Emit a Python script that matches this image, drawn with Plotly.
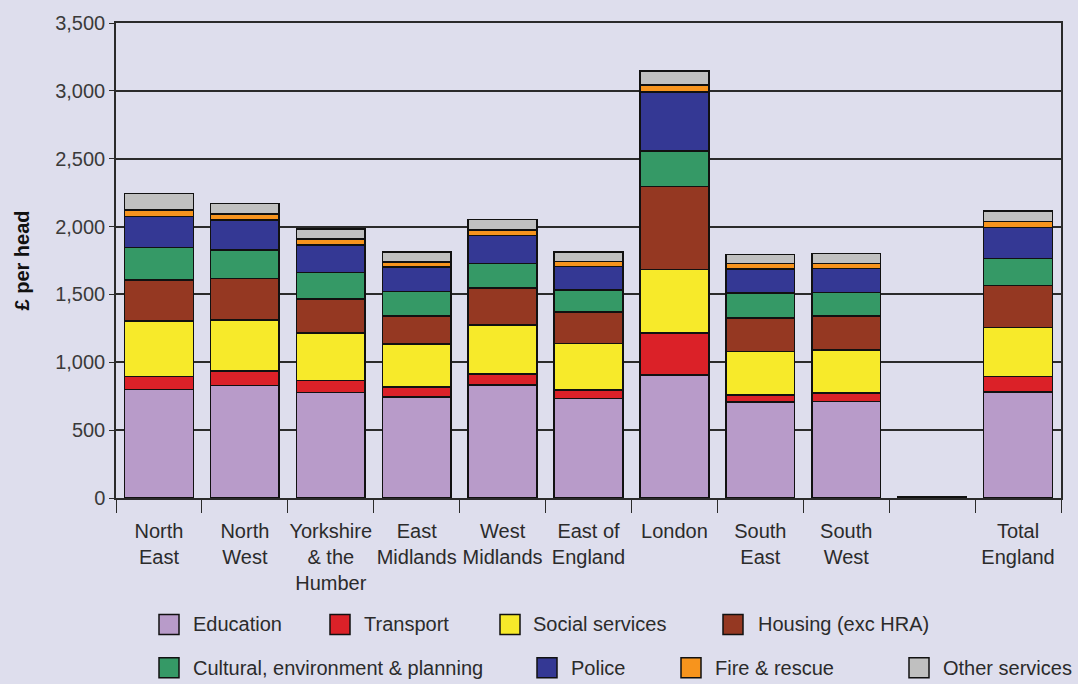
import plotly.graph_objects as go

# Regions (blank slot before the England total)
REGIONS = [
    "North<br>East", "North<br>West", "Yorkshire<br>& the<br>Humber", "East<br>Midlands",
    "West<br>Midlands", "East of<br>England", "London", "South<br>East", "South<br>West",
    " ", "Total<br>England",
]

# £ per head by service
EDUCATION = [801, 828, 777, 745, 832, 735, 905, 706, 711, 6, 781]
TRANSPORT = [94, 109, 87, 73, 80, 61, 309, 53, 61, 0, 114]
SOCIAL_SERVICES = [410, 376, 352, 318, 364, 342, 468, 321, 320, 0, 362]
HOUSING = [302, 303, 249, 206, 270, 233, 613, 247, 250, 0, 310]
CULTURAL = [240, 213, 195, 180, 182, 163, 263, 182, 172, 0, 197]
POLICE = [226, 219, 204, 179, 206, 172, 432, 178, 177, 0, 231]
FIRE = [48, 44, 43, 37, 41, 36, 53, 41, 37, 0, 43]
OTHER = [121, 77, 75, 75, 76, 71, 102, 65, 72, 0, 78]

SERIES = [
    ("Education", EDUCATION, "#B89BC9"),
    ("Transport", TRANSPORT, "#DB2128"),
    ("Social services", SOCIAL_SERVICES, "#F7EA2A"),
    ("Housing (exc HRA)", HOUSING, "#953822"),
    ("Cultural, environment & planning", CULTURAL, "#359966"),
    ("Police", POLICE, "#343894"),
    ("Fire & rescue", FIRE, "#F7941D"),
    ("Other services", OTHER, "#C0C0C0"),
]

Y_TICKS = [0, 500, 1000, 1500, 2000, 2500, 3000, 3500]

BG = "#DEDEED"
INK = "#2b2b2b"
FONT = "Liberation Sans, Arial, sans-serif"

# legend placement in pixels (swatch centre x, row centre y, text start x)
LEGEND_POS = [
    (169, 626, 193), (340, 626, 364), (510, 626, 533), (733, 626, 758),
    (169, 670, 193), (547, 670, 571), (691, 670, 715), (919, 670, 943),
]

W, H = 1078, 684
L, R, T, B = 116, 17, 17, 186

fig = go.Figure()
for name, vals, color in SERIES:
    fig.add_trace(
        go.Bar(
            x=REGIONS,
            y=vals,
            name=name,
            marker=dict(color=color, line=dict(color="#111111", width=1.5)),
            hovertemplate="%{y:,}<extra>" + name + "</extra>",
        )
    )

# hand-built legend to match the two-row layout
pw, ph = W - L - R, H - T - B
for (name, _, color), (sx, sy, tx) in zip(SERIES, LEGEND_POS):
    px = (sx - L) / pw
    py = (H - B - sy) / ph
    fig.add_shape(
        type="rect", xref="paper", yref="paper",
        xsizemode="pixel", ysizemode="pixel",
        xanchor=px, yanchor=py, x0=-10, x1=10, y0=-10, y1=10,
        fillcolor=color, line=dict(color="#111111", width=1.5),
    )
    fig.add_annotation(
        x=(tx - L) / pw, y=py, xref="paper", yref="paper",
        text=name, showarrow=False, xanchor="left", yanchor="middle",
        xshift=-2,
        font=dict(size=20, color=INK, family=FONT),
    )

fig.update_layout(
    barmode="stack",
    bargap=0.2,
    width=W,
    height=H,
    showlegend=False,
    paper_bgcolor=BG,
    plot_bgcolor=BG,
    margin=dict(l=L, r=R, t=T, b=B),
    font=dict(family=FONT, color=INK),
)
fig.update_xaxes(
    type="category",
    tickangle=0,
    ticks="outside",
    tickson="boundaries",
    ticklen=13,
    tickcolor=INK,
    ticklabelstandoff=14,
    showline=True,
    linecolor=INK,
    linewidth=1.5,
    mirror=True,
    showgrid=False,
    tickfont=dict(size=20, color=INK, family=FONT),
)
fig.update_yaxes(
    range=[0, 3500],
    tickvals=Y_TICKS,
    tickformat=",",
    ticks="outside",
    ticklen=5,
    tickcolor=INK,
    showline=True,
    linecolor=INK,
    linewidth=1.5,
    mirror=True,
    showgrid=True,
    gridcolor=INK,
    gridwidth=1.5,
    zeroline=False,
    tickfont=dict(size=20, color="#3a3a3a", family=FONT),
    title=dict(
        text="<b>£ per head</b>",
        font=dict(size=20, color="#111111", family=FONT),
        standoff=20,
    ),
)

fig.write_html(
    "out.html",
    config={"displayModeBar": False},
    post_script="document.body.style.margin='0';",
)
